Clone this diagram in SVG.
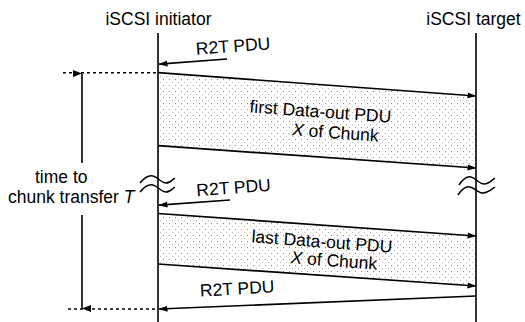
<svg xmlns="http://www.w3.org/2000/svg" width="525" height="322" viewBox="0 0 525 322">
  <style>
    text { font-family: "Liberation Sans", Arial, sans-serif; font-size: 17.5px; fill: #000; }
    .mid { text-anchor: middle; }
    .it { font-style: italic; }
    .life { stroke: #000; stroke-width: 1.6; fill: none; }
    .msg { stroke: #000; stroke-width: 1.7; fill: none; marker-end: url(#head); }
    .dash { stroke: #000; stroke-width: 1.4; stroke-dasharray: 3 3; fill: none; }
    .brk { stroke: #000; stroke-width: 1.5; fill: none; }
    .shade { fill: url(#dots); stroke: none; }
  </style>
  <defs>
    <marker id="head" markerUnits="userSpaceOnUse" markerWidth="9" markerHeight="7" refX="8.5" refY="3" orient="auto">
      <path d="M0,0 L9,3 L0,6 z" fill="#000"/>
    </marker>
    <marker id="vhead" markerUnits="userSpaceOnUse" markerWidth="7" markerHeight="9" refX="3.5" refY="0" orient="auto-start-reverse" viewBox="0 -9 7 9">
      <path d="M0,-9 L3.5,0 L7,-9 z" fill="#000"/>
    </marker>
    <pattern id="dots" patternUnits="userSpaceOnUse" width="6" height="6">
      <rect x="1" y="1" width="1" height="1" fill="#888"/>
      <rect x="4" y="4" width="1" height="1" fill="#bbb"/>
    </pattern>
  </defs>

  <rect width="525" height="322" fill="#fff"/>

  <!-- dotted areas covered by the data-out transfers -->
  <polygon class="shade" points="158,72.7 476,96 476,168 158,145.7"/>
  <polygon class="shade" points="158,213.5 476,236 476,286 158,264"/>

  <!-- lifelines -->
  <g id="initiator">
    <text class="mid" x="158.5" y="25">iSCSI initiator</text>
    <line class="life" x1="158" y1="33" x2="158" y2="322"/>
    <path class="brk" d="M140,183 C145,177 149,175 153,176 C158,177 161,183 166,183 C170,183 172,180 175,178"/>
    <path class="brk" d="M140,192 C145,186 149,184 153,185 C158,186 161,192 166,192 C170,192 172,189 175,187"/>
  </g>
  <g id="target">
    <text class="mid" x="473.5" y="25">iSCSI target</text>
    <line class="life" x1="476" y1="33" x2="476" y2="322"/>
    <path class="brk" d="M459,185 C463,179 467,176 471,177 C476,178 479,184 484,184 C489,184 492,180 495,178"/>
    <path class="brk" d="M458,195 C462,189 466,186 470,187 C475,188 478,193 483,193 C488,193 492,189 495,187"/>
  </g>

  <!-- messages -->
  <g id="connectors">
    <line class="msg" x1="227" y1="59" x2="159" y2="64.2"/>
    <line class="msg" x1="158" y1="72.7" x2="476" y2="96"/>
    <line class="msg" x1="158" y1="145.7" x2="476" y2="168"/>
    <line class="msg" x1="230" y1="200" x2="159" y2="205.2"/>
    <line class="msg" x1="158" y1="213.5" x2="476" y2="236"/>
    <line class="msg" x1="158" y1="264" x2="476" y2="286"/>
    <line class="msg" x1="476" y1="296" x2="159" y2="309"/>
    <!-- time span markers -->
    <line class="dash" x1="63" y1="72.7" x2="157" y2="72.7"/>
    <line class="dash" x1="68" y1="309" x2="157" y2="309"/>
    <line class="life" x1="82" y1="73.5" x2="82" y2="163" marker-start="url(#vhead)"/>
    <line class="life" x1="82" y1="215" x2="82" y2="308.5" marker-end="url(#vhead)"/>
  </g>

  <!-- labels -->
  <g id="labels">
    <text class="mid" x="233.5" y="52" transform="rotate(-4.3 233.5 52)">R2T PDU</text>
    <text class="mid" x="234" y="193.5" transform="rotate(-4.3 234 193.5)">R2T PDU</text>
    <text class="mid" x="237.5" y="294.5" transform="rotate(-3.2 237.5 294.5)">R2T PDU</text>

    <text class="mid" x="320" y="117.5" transform="rotate(4.2 320 117.5)">first Data-out PDU</text>
    <text class="mid" x="335" y="138.5" transform="rotate(4.2 335 138.5)"><tspan class="it">X</tspan> of Chunk</text>

    <text class="mid" x="321.5" y="247.5" transform="rotate(4.2 321.5 247.5)">last Data-out PDU</text>
    <text class="mid" x="333.5" y="266.5" transform="rotate(4.2 333.5 266.5)"><tspan class="it">X</tspan> of Chunk</text>

    <text x="35" y="183">time to</text>
    <text x="8" y="203">chunk transfer <tspan class="it">T</tspan></text>
  </g>
</svg>
